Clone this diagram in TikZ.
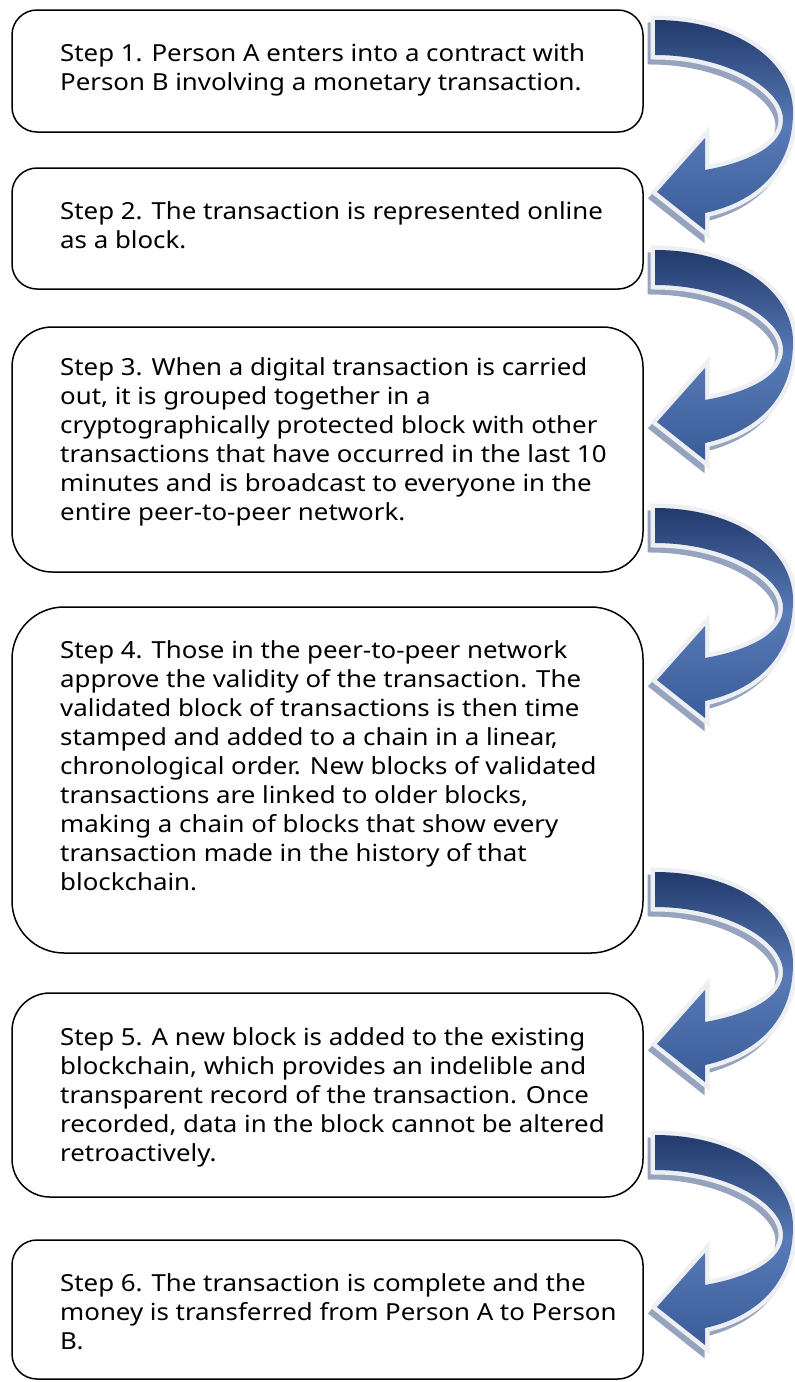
\documentclass[tikz,border=0pt]{standalone}
\usepackage{fontspec}
\setmainfont{Noto Sans}[FakeStretch=1.1]
\definecolor{arrdark}{RGB}{34,58,108}
\definecolor{arrmid}{RGB}{88,122,182}
\definecolor{arrlight}{RGB}{58,92,152}
\definecolor{arrshadow}{RGB}{150,163,190}
\definecolor{arroutline}{RGB}{238,239,243}
\newcommand{\bigArrowPath}{(0,0) .. controls (80,0) and (138,40) .. (138,92) .. controls (138,150) and (100,182) .. (50,193) -- (50,210) -- (2,172) -- (50,118) -- (50,150) .. controls (95,142) and (128,125) .. (128,100) .. controls (128,68) and (70,35) .. (0,35) -- cycle}
\newcommand{\bigArrow}[1]{%
  \begin{scope}[shift={(655,#1)}]
    \fill[arrshadow] [shift={(-4,6)}] \bigArrowPath;
    \draw[arrshadow, line width=7pt, line join=miter] [shift={(-4,6)}] \bigArrowPath;
    \draw[arroutline, line width=9pt, line join=miter, fill=arroutline] \bigArrowPath;
    \shade[top color=arrdark, bottom color=arrlight, middle color=arrmid] \bigArrowPath;
  \end{scope}}
\tikzset{
  stepbox/.style={draw=black, line width=1.5pt, inner sep=0pt, outer sep=0pt, minimum width=631pt},
  steptext/.style={anchor=north west, inner sep=0pt, align=left, font=\fontsize{23.5}{29}\selectfont}
}
\begin{document}
\begin{tikzpicture}[x=1pt, y=-1pt]
\useasboundingbox (0,0) rectangle (795,1382);
% arrows
\bigArrow{20}
\bigArrow{250}
\bigArrow{508}
\bigArrow{872}
\bigArrow{1135}
% boxes
\node[stepbox, minimum height=122pt, rounded corners=25pt] (b1) at (327.5,71) {};
\node[stepbox, minimum height=121pt, rounded corners=25pt] (b2) at (327.5,228.5) {};
\node[stepbox, minimum height=245pt, rounded corners=40pt] (b3) at (327.5,449.5) {};
\node[stepbox, minimum height=346pt, rounded corners=52pt] (b4) at (327.5,780) {};
\node[stepbox, minimum height=204pt, rounded corners=38pt] (b5) at (327.5,1095) {};
\node[stepbox, minimum height=139pt, rounded corners=25pt] (b6) at (327.5,1309.5) {};
% texts
\node[steptext] (t1) at ([xshift=48pt,yshift=-33pt]b1.north west) {Step 1. Person A enters into a contract with\\Person B involving a monetary transaction.};
\node[steptext] (t2) at ([xshift=48pt,yshift=-33pt]b2.north west) {Step 2. The transaction is represented online\\as a block.};
\node[steptext] (t3) at ([xshift=48pt,yshift=-30pt]b3.north west) {Step 3. When a digital transaction is carried\\out, it is grouped together in a\\cryptographically protected block with other\\transactions that have occurred in the last 10\\minutes and is broadcast to everyone in the\\entire peer-to-peer network.};
\node[steptext] (t4) at ([xshift=48pt,yshift=-33pt]b4.north west) {Step 4. Those in the peer-to-peer network\\approve the validity of the transaction. The\\validated block of transactions is then time\\stamped and added to a chain in a linear,\\chronological order. New blocks of validated\\transactions are linked to older blocks,\\making a chain of blocks that show every\\transaction made in the history of that\\blockchain.};
\node[steptext] (t5) at ([xshift=48pt,yshift=-34pt]b5.north west) {Step 5. A new block is added to the existing\\blockchain, which provides an indelible and\\transparent record of the transaction. Once\\recorded, data in the block cannot be altered\\retroactively.};
\node[steptext] (t6) at ([xshift=48pt,yshift=-33pt]b6.north west) {Step 6. The transaction is complete and the\\money is transferred from Person A to Person\\B.};
\end{tikzpicture}
\end{document}
